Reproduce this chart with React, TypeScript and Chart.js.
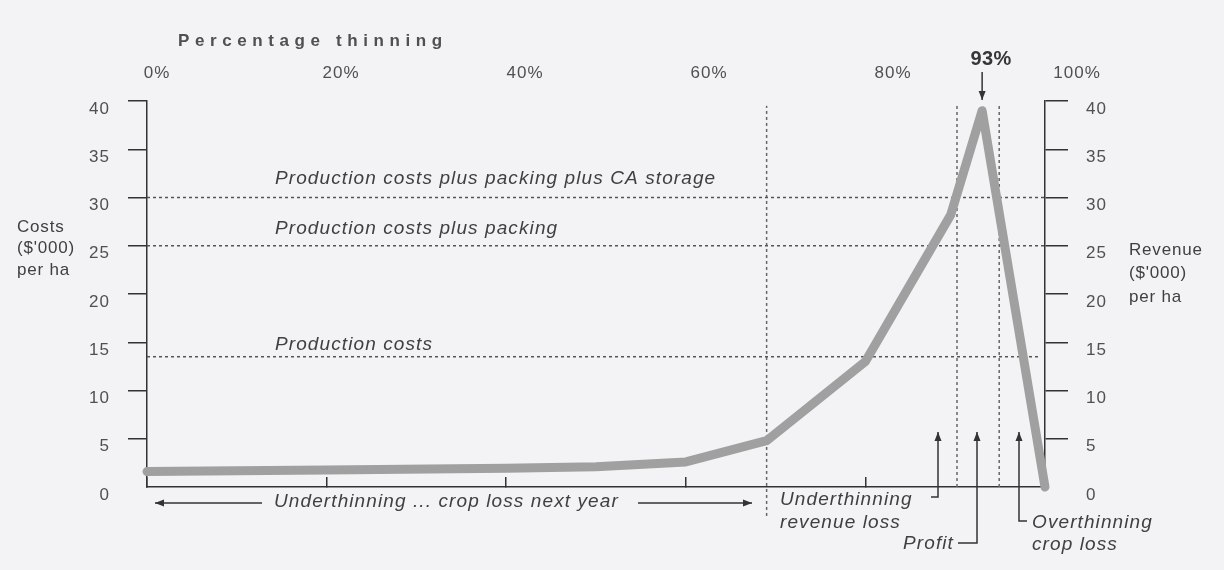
import React, { useEffect, useRef } from 'react';
import { Chart, registerables } from 'chart.js';

Chart.register(...registerables);

// ---- data ----
const thinningPct = [0, 20, 40, 50, 60, 69, 80, 89.5, 93, 100];
const revenue = [1.6, 1.75, 1.95, 2.1, 2.6, 4.8, 13, 28.2, 39, 0];

const costLevels = [30, 25, 13.5];
const costEnds = [100, 100, 99.4];
const costLabels = [
  'Production costs plus packing plus CA storage',
  'Production costs plus packing',
  'Production costs',
];

const thresholdPct = [69, 90.2, 94.9];
const thresholdBottom = [-3, 0, 0];
const thresholdTop = [39.5, 39.7, 39.7];

const axisTicks = [0, 5, 10, 15, 20, 25, 30, 35, 40];
const topTickValues = [0, 20, 40, 60, 80, 100];
const topTickLabels = ['0%', '20%', '40%', '60%', '80%', '100%'];

const peakPct = 93;
const peakLabel = '93%';
const topTitle = 'Percentage thinning';
const leftTitle = ['Costs', "($'000)", 'per ha'];
const rightTitle = ['Revenue', "($'000)", 'per ha'];
const bottomNote = 'Underthinning ... crop loss next year';
const underLabel = ['Underthinning', 'revenue loss'];
const profitLabel = 'Profit';
const overLabel = ['Overthinning', 'crop loss'];

const BG = '#f3f2f4';
const INK = '#333333';
const TXT = '#404040';
const FAMILY = "'Liberation Sans', Arial, Helvetica, sans-serif";

function arrowHead(ctx: CanvasRenderingContext2D, x1: number, y1: number, x2: number, y2: number) {
  const a = Math.atan2(y2 - y1, x2 - x1);
  const len = 9;
  const w = 3.5;
  ctx.beginPath();
  ctx.moveTo(x2, y2);
  ctx.lineTo(x2 - len * Math.cos(a) + w * Math.sin(a), y2 - len * Math.sin(a) - w * Math.cos(a));
  ctx.lineTo(x2 - len * Math.cos(a) - w * Math.sin(a), y2 - len * Math.sin(a) + w * Math.cos(a));
  ctx.closePath();
  ctx.fill();
}

function polyArrow(ctx: CanvasRenderingContext2D, pts: number[][]) {
  ctx.beginPath();
  ctx.moveTo(pts[0][0], pts[0][1]);
  for (let i = 1; i < pts.length; i++) ctx.lineTo(pts[i][0], pts[i][1]);
  ctx.stroke();
  const n = pts.length;
  arrowHead(ctx, pts[n - 2][0], pts[n - 2][1], pts[n - 1][0], pts[n - 1][1]);
}

const annotPlugin = {
  id: 'annot',
  beforeDraw(chart: any) {
    const ctx = chart.ctx as CanvasRenderingContext2D;
    ctx.save();
    ctx.fillStyle = BG;
    ctx.fillRect(0, 0, chart.width, chart.height);
    ctx.restore();
    (ctx as any).letterSpacing = '1px';
  },
  afterDraw(chart: any) {
    const ctx = chart.ctx as CanvasRenderingContext2D;
    const xs = chart.scales.x;
    const ys = chart.scales.y;
    const px = (v: number) => xs.getPixelForValue(v);
    const py = (v: number) => ys.getPixelForValue(v);
    ctx.save();
    ctx.fillStyle = '#505050';
    ctx.strokeStyle = INK;
    ctx.lineWidth = 1.5;
    ctx.textBaseline = 'middle';

    // top title
    ctx.font = `bold 17px ${FAMILY}`;
    (ctx as any).letterSpacing = '5.6px';
    ctx.textAlign = 'left';
    ctx.fillText(topTitle, 178, 41);

    // side titles
    ctx.fillStyle = TXT;
    ctx.font = `17px ${FAMILY}`;
    (ctx as any).letterSpacing = '0.8px';
    leftTitle.forEach((t, i) => ctx.fillText(t, 17, 227 + i * 21.5));
    rightTitle.forEach((t, i) => ctx.fillText(t, 1129, 250 + i * 23.5));

    // peak label + arrow
    ctx.font = `bold 20px ${FAMILY}`;
    (ctx as any).letterSpacing = '0.5px';
    ctx.textAlign = 'center';
    ctx.fillStyle = '#363636';
    ctx.fillText(peakLabel, px(peakPct) + 9, 59);
    ctx.fillStyle = INK;
    polyArrow(ctx, [[px(peakPct), 72], [px(peakPct), 100]]);

    // cost line labels (italic)
    ctx.fillStyle = TXT;
    ctx.font = `italic 19px ${FAMILY}`;
    (ctx as any).letterSpacing = '1.1px';
    ctx.textAlign = 'left';
    const offs = [-19, -17, -12];
    costLabels.forEach((t, i) => ctx.fillText(t, px(14.25), py(costLevels[i]) + offs[i]));

    // bottom note with arrows
    const by = py(0) + 16;
    ctx.fillText(bottomNote, 274, by - 1);
    ctx.fillStyle = INK;
    polyArrow(ctx, [[262, by], [155, by]]);
    polyArrow(ctx, [[638, by], [752, by]]);

    // underthinning revenue loss
    ctx.fillStyle = TXT;
    ctx.fillText(underLabel[0], 780, 500);
    ctx.fillText(underLabel[1], 780, 523);
    ctx.fillStyle = INK;
    polyArrow(ctx, [[931, 497], [938, 497], [938, 432]]);

    // profit
    ctx.fillStyle = TXT;
    ctx.textAlign = 'right';
    ctx.fillText(profitLabel, 954, 544);
    ctx.fillStyle = INK;
    polyArrow(ctx, [[958, 543], [977, 543], [977, 432]]);

    // overthinning
    ctx.fillStyle = TXT;
    ctx.textAlign = 'left';
    ctx.fillText(overLabel[0], 1032, 523);
    ctx.fillText(overLabel[1], 1032, 545);
    ctx.fillStyle = INK;
    polyArrow(ctx, [[1027, 521], [1019, 521], [1019, 432]]);

    ctx.restore();
    (ctx as any).letterSpacing = '0px';
  },
};

export default function App() {
  const ref = useRef<HTMLCanvasElement | null>(null);

  useEffect(() => {
    if (!ref.current) return;
    Chart.defaults.font.family = FAMILY;

    const datasets: any[] = [
      {
        label: 'Revenue',
        data: thinningPct.map((x, i) => ({ x, y: revenue[i] })),
        borderColor: '#a0a0a0',
        borderWidth: 9,
        borderJoinStyle: 'round',
        borderCapStyle: 'round',
        pointRadius: 0,
        tension: 0,
        clip: false,
      },
    ];
    costLevels.forEach((lv, i) => {
      datasets.push({
        label: costLabels[i],
        data: [
          { x: 0, y: lv },
          { x: costEnds[i], y: lv },
        ],
        borderColor: '#555',
        borderWidth: 1.5,
        borderDash: [3, 3],
        pointRadius: 0,
        clip: false,
      });
    });
    thresholdPct.forEach((t, i) => {
      datasets.push({
        label: 'threshold ' + t,
        data: [
          { x: t, y: thresholdBottom[i] },
          { x: t, y: thresholdTop[i] },
        ],
        borderColor: '#666',
        borderWidth: 1.5,
        borderDash: [3, 3],
        pointRadius: 0,
        clip: false,
      });
    });

    const yTicks = {
      color: '#505050',
      font: { size: 17 },
      padding: 18,
      labelOffset: 8,
    };
    const tickGrid = (len: number) => ({
      drawOnChartArea: false,
      drawTicks: true,
      tickLength: len,
      lineWidth: 1.5,
      color: (c: any) => (c.tick && c.tick.value === 0 ? 'rgba(0,0,0,0)' : INK),
    });
    const setTicks = (s: any) => {
      s.ticks = axisTicks.map((v) => ({ value: v }));
    };

    const chart = new Chart(ref.current, {
      type: 'line',
      data: { datasets },
      plugins: [annotPlugin],
      options: {
        responsive: false,
        animation: false,
        events: [],
        layout: { padding: 0 },
        plugins: { legend: { display: false }, tooltip: { enabled: false } },
        scales: {
          x: {
            type: 'linear',
            position: 'bottom',
            min: 0,
            max: 100,
            afterBuildTicks: (s: any) => {
              s.ticks = topTickValues.map((v) => ({ value: v }));
            },
            ticks: { display: false },
            grid: { drawOnChartArea: false, drawTicks: true, tickLength: -10, lineWidth: 1.5, color: INK },
            border: { display: true, color: INK, width: 1.5 },
            afterFit: (s: any) => {
              s.height = 83;
            },
          },
          x2: {
            type: 'linear',
            position: 'top',
            min: -1.087,
            max: 96.52,
            afterBuildTicks: (s: any) => {
              s.ticks = topTickValues.map((v) => ({ value: v }));
            },
            ticks: {
              color: '#505050',
              font: { size: 17 },
              padding: 17,
              maxRotation: 0,
              autoSkip: false,
              callback: (v: any) => topTickLabels[topTickValues.indexOf(Number(v))] ?? '',
            },
            grid: { display: false, drawTicks: false },
            border: { display: false },
            afterFit: (s: any) => {
              s.height = 101;
            },
          },
          y: {
            type: 'linear',
            position: 'left',
            min: 0,
            max: 40,
            afterBuildTicks: setTicks,
            ticks: yTicks,
            grid: tickGrid(19),
            border: { display: true, color: INK, width: 1.5 },
            afterFit: (s: any) => {
              s.width = 147;
            },
          },
          y2: {
            type: 'linear',
            position: 'right',
            min: 0,
            max: 40,
            afterBuildTicks: setTicks,
            ticks: yTicks,
            grid: tickGrid(23),
            border: { display: true, color: INK, width: 1.5 },
            afterFit: (s: any) => {
              s.width = 179;
            },
          },
        },
      } as any,
    });
    return () => chart.destroy();
  }, []);

  return (
    <div style={{ position: 'absolute', left: 0, top: 0, width: 1224, height: 570 }}>
      <canvas ref={ref} width={1224} height={570} style={{ display: 'block' }} />
    </div>
  );
}
